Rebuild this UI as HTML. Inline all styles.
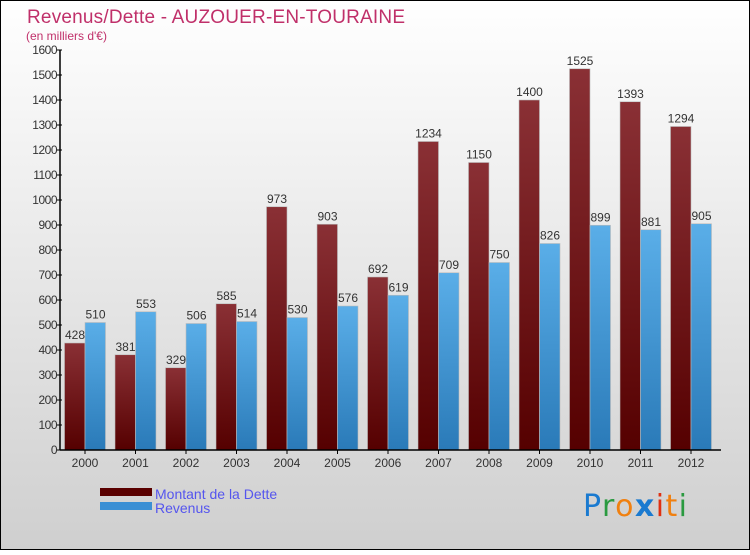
<!DOCTYPE html>
<html><head><meta charset="utf-8"><style>
body{margin:0;width:750px;height:550px;overflow:hidden;font-family:"Liberation Sans",sans-serif}
</style></head><body>
<svg id="c" width="750" height="550" xmlns="http://www.w3.org/2000/svg">
<defs>
<linearGradient id="bg" x1="0" y1="0" x2="0" y2="1"><stop offset="0" stop-color="#ffffff"/><stop offset="1" stop-color="#cfcfcf"/></linearGradient>
<linearGradient id="gd" x1="0" y1="0" x2="0" y2="1"><stop offset="0" stop-color="#8a3035"/><stop offset="1" stop-color="#550000"/></linearGradient>
<linearGradient id="gr" x1="0" y1="0" x2="0" y2="1"><stop offset="0" stop-color="#5aaee8"/><stop offset="1" stop-color="#2a7ab8"/></linearGradient>
</defs>
<rect x="0.5" y="0.5" width="749" height="549" fill="url(#bg)" stroke="#000"/>
<text x="27" y="23" font-size="19" fill="#c0306a" textLength="378">Revenus/Dette - AUZOUER-EN-TOURAINE</text>
<text x="26" y="40" font-size="12" fill="#c0306a">(en milliers d'€)</text>
<g id="bars"></g>
<g id="axes"></g>
<rect x="100" y="488" width="52" height="8" fill="#5a0000"/>
<rect x="100" y="502" width="52" height="8" fill="#3a8fd4"/>
<text x="155" y="499" font-size="14" fill="#5555ee">Montant de la Dette</text>
<text x="155" y="513" font-size="14" fill="#5555ee">Revenus</text>
<text x="583" y="516" font-size="30" textLength="104" font-family="'DejaVu Sans',sans-serif"><tspan fill="#1a7ad0">P</tspan><tspan fill="#2a9a40">r</tspan><tspan fill="#f08010">o</tspan><tspan fill="#1a7ad0" font-weight="bold">x</tspan><tspan fill="#e03010">i</tspan><tspan fill="#f08010">t</tspan><tspan fill="#2a9a40">i</tspan></text>
</svg>
<script>
const years=["2000","2001","2002","2003","2004","2005","2006","2007","2008","2009","2010","2011","2012"];
const dette=[428,381,329,585,973,903,692,1234,1150,1400,1525,1393,1294];
const revenus=[510,553,506,514,530,576,619,709,750,826,899,881,905];
const yTicks=[0,100,200,300,400,500,600,700,800,900,1000,1100,1200,1300,1400,1500,1600];
const NS="http://www.w3.org/2000/svg";
const y=v=>450-v*0.25;
const xc=i=>85+i*50.5;
const bars=document.getElementById('bars'),axes=document.getElementById('axes');
function mk(tag,a,p){const e=document.createElementNS(NS,tag);for(const k in a)e.setAttribute(k,a[k]);p.appendChild(e);return e;}
years.forEach((yr,i)=>{
 let r=mk('rect',{x:xc(i)-20.5,y:y(dette[i]),width:20.5,height:450-y(dette[i]),fill:'url(#gd)',stroke:'#bbb','stroke-width':0.6},bars);
 
 
 let r2=mk('rect',{x:xc(i),y:y(revenus[i]),width:20.5,height:450-y(revenus[i]),fill:'url(#gr)',stroke:'#bbb','stroke-width':0.6},bars);
 
 
 let t=mk('text',{x:xc(i)-10,y:y(dette[i])-4,'font-size':12,fill:'#333','text-anchor':'middle'},bars);t.textContent=dette[i];
 
 
 let t2=mk('text',{x:xc(i)+10.5,y:y(revenus[i])-4,'font-size':12,fill:'#333','text-anchor':'middle'},bars);t2.textContent=revenus[i];
 
 
 let xl=mk('text',{x:xc(i),y:467,'font-size':12,fill:'#333','text-anchor':'middle'},axes);xl.textContent=yr;
 
 
 mk('line',{x1:xc(i),x2:xc(i),y1:450,y2:454,stroke:'#000'},axes);
});
yTicks.forEach(v=>{
 mk('line',{x1:57,x2:62,y1:y(v),y2:y(v),stroke:'#000'},axes);
 let t=mk('text',{x:57,y:y(v)+4,'font-size':12,fill:'#333','text-anchor':'end','letter-spacing':'-0.5'},axes);t.textContent=v;
 
 
});
let ya=mk('line',{x1:60,x2:60,y1:50,y2:450,stroke:'#000','stroke-width':1.5},axes);


let xa=mk('line',{x1:60,x2:721,y1:450,y2:450,stroke:'#000','stroke-width':1.5},axes);


</script>
</body></html>
